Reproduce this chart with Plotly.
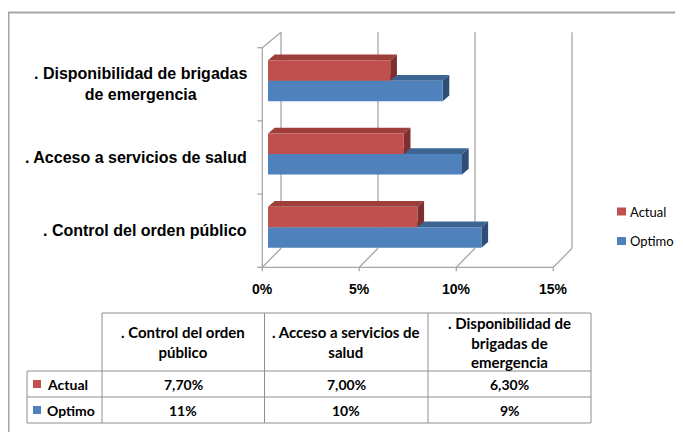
import plotly.graph_objects as go

# --- datos ---
categorias = [". Control del orden público", ". Acceso a servicios de salud",
              ". Disponibilidad de brigadas de emergencia"]
etiquetas_eje = [". Control del orden público", ". Acceso a servicios de salud",
                 ". Disponibilidad de brigadas<br>de emergencia"]
etiquetas_tabla = [". Control del orden<br>público", ". Acceso a servicios de<br>salud",
                   ". Disponibilidad de<br>brigadas de<br>emergencia"]
series = ["Actual", "Optimo"]
actual = [7.7, 7.0, 6.3]
optimo = [11, 10, 9]
ticks_x = [0, 5, 10, 15]
ticks_txt = ["0%", "5%", "10%", "15%"]

texto_actual = [f"{v:.2f}%".replace(".", ",") for v in actual]
texto_optimo = [f"{v:.0f}%" for v in optimo]

# --- estilo ---
ROJO, ROJO_SUP, ROJO_LAT = "#C0504D", "#9E3E3B", "#7F302E"
AZUL, AZUL_SUP, AZUL_LAT = "#4F81BD", "#3D6594", "#2F4E76"
GRIS = "#A6A6A6"
F_EJE = "Liberation Sans, Arial, sans-serif"
F_TAB = "Lato, Calibri, sans-serif"

W, H = 683, 432
OFF = 8                      # margen del body de la pagina
ML, MR, MT, MB = 248, 113, 18, 168
X0PX, PXX = 268.0 - OFF, 19.4      # pixel de x=0 y pixeles por unidad
Y0PX, PXY = 263.8 - OFF, 73.2      # pixel de y=-0.5 y pixeles por categoria
xr = [(ML - X0PX) / PXX, (W - MR - X0PX) / PXX]
yr = [-0.5 - (H - MB - Y0PX) / PXY, -0.5 + (Y0PX - MT) / PXY]


def ux(p):
    return p / PXX


def uy(p):
    return p / PXY


def fx(p):
    return (p - OFF - ML) / (W - ML - MR)


def fy(p):
    return (H - MB - (p - OFF)) / (H - MT - MB)


pos = list(range(len(categorias)))
BARGAP = 0.44
BW = (1 - BARGAP) / 2

fig = go.Figure()
fig.add_trace(go.Bar(y=pos, x=optimo, orientation="h", name="Optimo",
                     marker=dict(color=AZUL, line=dict(width=0)), showlegend=False))
fig.add_trace(go.Bar(y=pos, x=actual, orientation="h", name="Actual",
                     marker=dict(color=ROJO, line=dict(width=0)), showlegend=False))

shapes = []
linea = dict(color=GRIS, width=1.3)

# marco 3D
FX, FY = ux(-5.7), uy(-3.5)
BX, BYB, BYT = ux(13), uy(15.5), uy(11.9)
Y_LO, Y_HI = -0.5, 2.5
for v in ticks_x:
    shapes.append(dict(type="line", xref="x", yref="y", layer="below", line=linea,
                       x0=v + BX, x1=v + BX, y0=Y_LO + BYB, y1=Y_HI + BYT))
    shapes.append(dict(type="line", xref="x", yref="y", layer="below", line=linea,
                       x0=v + FX, x1=v + BX, y0=Y_LO + FY, y1=Y_LO + BYB))
    shapes.append(dict(type="line", xref="x", yref="y", layer="below", line=linea,
                       x0=v + FX, x1=v + FX, y0=Y_LO + FY, y1=Y_LO + FY - uy(4)))
shapes.append(dict(type="line", xref="x", yref="y", layer="below", line=linea,
                   x0=FX, x1=ticks_x[-1] + FX, y0=Y_LO + FY, y1=Y_LO + FY))
shapes.append(dict(type="line", xref="x", yref="y", layer="below", line=linea,
                   x0=FX, x1=FX, y0=Y_LO + FY, y1=Y_HI + FY))
shapes.append(dict(type="line", xref="x", yref="y", layer="below", line=linea,
                   x0=FX, x1=BX, y0=Y_HI + FY, y1=Y_HI + BYT))
for k in range(len(categorias) + 1):
    yk = Y_LO + k + FY
    shapes.append(dict(type="line", xref="x", yref="y", layer="below", line=linea,
                       x0=FX - ux(5), x1=FX, y0=yk, y1=yk))

# caras superiores y laterales de las barras
DX, DY = ux(6.7), uy(5.7)
for vals, lo, sup, lat in [(optimo, -BW, AZUL_SUP, AZUL_LAT), (actual, 0, ROJO_SUP, ROJO_LAT)]:
    for i, v in enumerate(vals):
        y0, y1 = i + lo, i + lo + BW
        shapes.append(dict(type="path", xref="x", yref="y", layer="below",
                           line=dict(width=0), fillcolor=sup,
                           path=f"M0,{y1} L{v},{y1} L{v + DX},{y1 + DY} L{DX},{y1 + DY} Z"))
        shapes.append(dict(type="path", xref="x", yref="y", layer="below",
                           line=dict(width=0), fillcolor=lat,
                           path=f"M{v},{y0} L{v},{y1} L{v + DX},{y1 + DY} L{v + DX},{y0 + DY} Z"))

annotations = []
for i, txt in enumerate(etiquetas_eje):
    annotations.append(dict(xref="paper", yref="y", x=fx(249), y=i, yshift=-3.5, text=f"<b>{txt}</b>",
                            xanchor="right", yanchor="middle", align="center", showarrow=False,
                            font=dict(family=F_EJE, size=16, color="black")))

# leyenda
colores = {"Actual": ROJO, "Optimo": AZUL}
for nombre, yc in zip(series, [211.5, 241]):
    shapes.append(dict(type="rect", xref="paper", yref="paper", line=dict(width=0),
                       fillcolor=colores[nombre], x0=fx(617), x1=fx(626), y0=fy(yc - 4), y1=fy(yc + 4)))
    annotations.append(dict(xref="paper", yref="paper", x=fx(628), y=fy(yc), text=nombre,
                            xanchor="left", yanchor="middle", showarrow=False,
                            font=dict(family=F_TAB, size=13, color="black")))

# tabla de datos
borde = dict(color="#8E8E8E", width=1)
cols = [27, 102, 264.5, 428, 591]
filas = [313, 371, 397, 423]
shapes.append(dict(type="line", xref="paper", yref="paper", line=borde,
                   x0=fx(cols[1]), x1=fx(cols[-1]), y0=fy(filas[0]), y1=fy(filas[0])))
for yy in filas[1:]:
    shapes.append(dict(type="line", xref="paper", yref="paper", line=borde,
                       x0=fx(cols[0]), x1=fx(cols[-1]), y0=fy(yy), y1=fy(yy)))
shapes.append(dict(type="line", xref="paper", yref="paper", line=borde,
                   x0=fx(cols[0]), x1=fx(cols[0]), y0=fy(filas[1]), y1=fy(filas[-1])))
for xx in cols[1:]:
    shapes.append(dict(type="line", xref="paper", yref="paper", line=borde,
                       x0=fx(xx), x1=fx(xx), y0=fy(filas[0]), y1=fy(filas[-1])))

centros = [(cols[j] + cols[j + 1]) / 2 for j in range(1, 4)]
for xc, txt in zip(centros, etiquetas_tabla):
    annotations.append(dict(xref="paper", yref="paper", x=fx(xc), y=fy(342), text=f"<b>{txt}</b>",
                            xanchor="center", yanchor="middle", align="center", showarrow=False,
                            font=dict(family=F_TAB, size=15, color="black")))
for nombre, textos, yc in [("Actual", texto_actual, 384), ("Optimo", texto_optimo, 410)]:
    shapes.append(dict(type="rect", xref="paper", yref="paper", line=dict(width=0),
                       fillcolor=colores[nombre], x0=fx(33), x1=fx(41), y0=fy(yc - 4), y1=fy(yc + 4)))
    annotations.append(dict(xref="paper", yref="paper", x=fx(45), y=fy(yc), text=f"<b>{nombre}</b>",
                            xanchor="left", yanchor="middle", showarrow=False,
                            font=dict(family=F_TAB, size=14, color="black")))
    for xc, t in zip(centros, textos):
        annotations.append(dict(xref="paper", yref="paper", x=fx(xc), y=fy(yc), text=f"<b>{t}</b>",
                                xanchor="center", yanchor="middle", showarrow=False,
                                font=dict(family=F_TAB, size=14, color="black")))

# borde exterior del grafico
shapes.append(dict(type="path", xref="paper", yref="paper", line=dict(color="#A5A5A5", width=2),
                   path=f"M{fx(8.5)},{fy(445)} L{fx(8.5)},{fy(12.5)} L{fx(700)},{fy(12.5)}"))

fig.update_layout(
    width=W, height=H,
    margin=dict(l=ML, r=MR, t=MT, b=MB),
    paper_bgcolor="white", plot_bgcolor="rgba(0,0,0,0)",
    barmode="group", bargap=BARGAP, bargroupgap=0,
    showlegend=False,
    shapes=shapes, annotations=annotations,
    xaxis=dict(range=xr, tickvals=ticks_x, ticktext=ticks_txt, showgrid=False, zeroline=False,
               showline=False, ticks="", ticklabelshift=-6, ticklabelstandoff=7,
               tickfont=dict(family=F_EJE, size=14, color="black", weight="bold")),
    yaxis=dict(range=yr, showgrid=False, zeroline=False, showline=False, ticks="",
               showticklabels=False),
)

fig.write_html("out.html")
